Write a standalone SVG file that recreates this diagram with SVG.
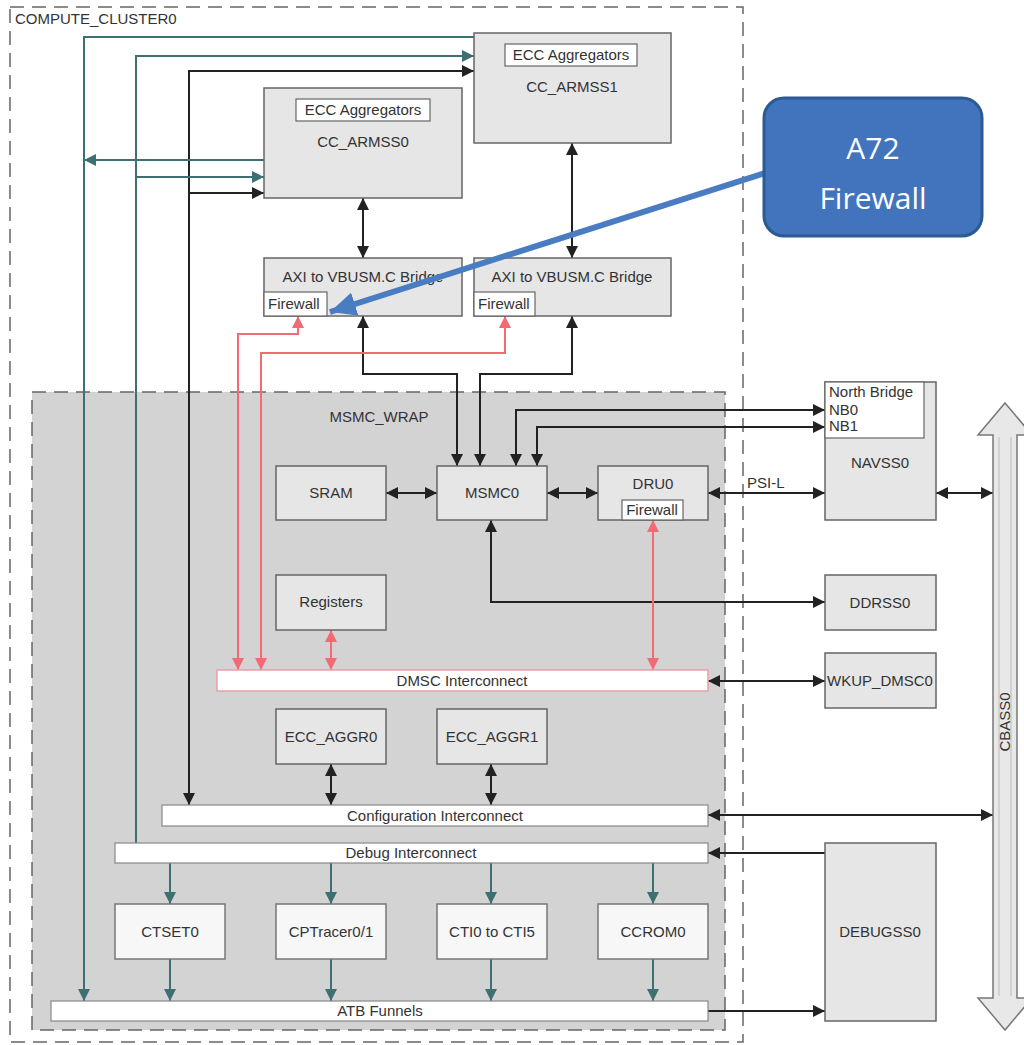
<svg xmlns="http://www.w3.org/2000/svg" width="1024" height="1045" viewBox="0 0 1024 1045">
<style>
text{font-family:"Liberation Sans",Arial,sans-serif;font-size:15px;fill:#333}
.c{text-anchor:middle}
.box{fill:#e6e6e6;stroke:#666;stroke-width:1.5}
.wbox{fill:#f7f7f7;stroke:#777;stroke-width:1.5}
.inner{fill:#fff;stroke:#666;stroke-width:1.2}
.bar{fill:#fff;stroke:#888;stroke-width:1.2}
.rbar{fill:#fff;stroke:#e9a0a8;stroke-width:1.5}
.dash{fill:none;stroke:#666;stroke-width:1.5;stroke-dasharray:14 8}
.k{fill:none;stroke:#222;stroke-width:2}
.t{fill:none;stroke:#3e6f73;stroke-width:2}
.r{fill:none;stroke:#f26b74;stroke-width:2}
.kk{marker-start:url(#ak);marker-end:url(#ak)}
.ke{marker-end:url(#ak)}
.te{marker-end:url(#at)}
.rr{marker-start:url(#ar);marker-end:url(#ar)}
</style>
<defs>
<marker id="ak" markerUnits="userSpaceOnUse" markerWidth="12" markerHeight="12" refX="12" refY="6" orient="auto-start-reverse"><path d="M0,0 L12,6 L0,12 z" fill="#222"/></marker>
<marker id="at" markerUnits="userSpaceOnUse" markerWidth="12" markerHeight="12" refX="12" refY="6" orient="auto-start-reverse"><path d="M0,0 L12,6 L0,12 z" fill="#3e6f73"/></marker>
<marker id="ar" markerUnits="userSpaceOnUse" markerWidth="12" markerHeight="12" refX="12" refY="6" orient="auto-start-reverse"><path d="M0,0 L12,6 L0,12 z" fill="#f26b74"/></marker>
<marker id="ab" markerUnits="userSpaceOnUse" markerWidth="26" markerHeight="24" refX="26" refY="12" orient="auto"><path d="M0,0 L26,12 L0,24 z" fill="#4a7cc2"/></marker>
</defs>

<g id="compute_cluster0">
<rect class="dash" x="10" y="7" width="733" height="1035"/>
<text x="15" y="24">COMPUTE_CLUSTER0</text>
</g>
<g id="msmc_wrap">
<rect x="32" y="392" width="693" height="638" fill="#d3d3d3" stroke="#666" stroke-width="1.5" stroke-dasharray="14 8"/>
<text class="c" x="379" y="422">MSMC_WRAP</text>
</g>

<g id="connectors">
<path class="k kk" d="M363,198 V258"/>
<path class="k kk" d="M572,143 V258"/>
<path class="k kk" d="M363,316 V374 H457 V466"/>
<path class="k kk" d="M572,316 V374 H480 V466"/>
<path class="k kk" d="M825,410 H516 V466"/>
<path class="k kk" d="M825,427 H537 V466"/>
<path class="k kk" d="M386,493 H437"/>
<path class="k kk" d="M547,493 H598"/>
<path class="k kk" d="M708,493 H825"/>
<path class="k kk" d="M936,493 H993"/>
<path class="k kk" d="M491,520 V602 H825"/>
<path class="k kk" d="M708,681 H825"/>
<path class="k kk" d="M331,764 V805"/>
<path class="k kk" d="M491,764 V805"/>
<path class="k kk" d="M708,815 H993"/>
<path class="k ke" d="M825,853 H708"/>
<path class="k ke" d="M708,1011 H825"/>
<path class="k kk" d="M189,805 V71 H474"/>
<path class="k ke" d="M189,193 H264"/>
<path class="t te" d="M474,37 H84 V1001"/>
<path class="t te" d="M264,160 H84"/>
<path class="t te" d="M136,843 V56 H474"/>
<path class="t te" d="M136,177 H264"/>
<path class="t te" d="M170,863 V904"/>
<path class="t te" d="M331,863 V904"/>
<path class="t te" d="M491,863 V904"/>
<path class="t te" d="M653,863 V904"/>
<path class="t te" d="M170,959 V1001"/>
<path class="t te" d="M331,959 V1001"/>
<path class="t te" d="M491,959 V1001"/>
<path class="t te" d="M653,959 V1001"/>
<path class="r rr" d="M238,670 V334 H298 V316"/>
<path class="r rr" d="M261,670 V353 H505 V316"/>
<path class="r rr" d="M331,630 V670"/>
<path class="r rr" d="M653,520 V670"/>
</g>

<g id="cc_armss1">
<rect class="box" x="474" y="33" width="197" height="110"/>
<rect class="inner" x="505" y="44" width="132" height="22"/>
<text class="c" x="571" y="60">ECC Aggregators</text>
<text class="c" x="572" y="92">CC_ARMSS1</text>
</g>
<g id="cc_armss0">
<rect class="box" x="264" y="88" width="198" height="110"/>
<rect class="inner" x="296" y="99" width="134" height="22"/>
<text class="c" x="363" y="115">ECC Aggregators</text>
<text class="c" x="363" y="147">CC_ARMSS0</text>
</g>
<g id="axi_bridge0">
<rect class="box" x="264" y="258" width="198" height="58"/>
<text class="c" x="363" y="282">AXI to VBUSM.C Bridge</text>
<rect class="inner" x="264" y="292" width="63" height="24"/>
<text x="268" y="309">Firewall</text>
</g>
<g id="axi_bridge1">
<rect class="box" x="474" y="258" width="197" height="58"/>
<text class="c" x="572" y="282">AXI to VBUSM.C Bridge</text>
<rect class="inner" x="474" y="292" width="61" height="24"/>
<text x="478" y="309">Firewall</text>
</g>
<g id="sram"><rect class="box" x="276" y="466" width="110" height="54"/><text class="c" x="331" y="498">SRAM</text></g>
<g id="msmc0"><rect class="box" x="437" y="466" width="110" height="54"/><text class="c" x="492" y="498">MSMC0</text></g>
<g id="dru0">
<rect class="box" x="598" y="466" width="110" height="54"/>
<text class="c" x="653" y="489">DRU0</text>
<rect class="inner" x="622" y="500" width="61" height="20"/>
<text class="c" x="652" y="515">Firewall</text>
</g>
<g id="navss0">
<rect class="box" x="825" y="382" width="111" height="138"/>
<rect class="inner" x="825" y="382" width="99" height="56"/>
<text x="829" y="397">North Bridge</text>
<text x="829" y="415">NB0</text>
<text x="829" y="431">NB1</text>
<text class="c" x="880" y="468">NAVSS0</text>
<text x="747" y="488">PSI-L</text>
</g>
<g id="ddrss0"><rect class="box" x="825" y="575" width="111" height="55"/><text class="c" x="880" y="608">DDRSS0</text></g>
<g id="wkup_dmsc0"><rect class="box" x="825" y="653" width="111" height="55"/><text class="c" x="880" y="686">WKUP_DMSC0</text></g>
<g id="registers"><rect class="box" x="276" y="575" width="110" height="55"/><text class="c" x="331" y="607">Registers</text></g>
<g id="dmsc_interconnect"><rect class="rbar" x="217" y="670" width="491" height="21"/><text class="c" x="462" y="686">DMSC Interconnect</text></g>
<g id="ecc_aggr0"><rect class="box" x="276" y="709" width="110" height="55"/><text class="c" x="331" y="742">ECC_AGGR0</text></g>
<g id="ecc_aggr1"><rect class="box" x="437" y="709" width="110" height="55"/><text class="c" x="492" y="742">ECC_AGGR1</text></g>
<g id="configuration_interconnect"><rect class="bar" x="162" y="805" width="546" height="21"/><text class="c" x="435" y="821">Configuration Interconnect</text></g>
<g id="debug_interconnect"><rect class="bar" x="115" y="843" width="593" height="20"/><text class="c" x="411" y="858">Debug Interconnect</text></g>
<g id="ctset0"><rect class="wbox" x="115" y="904" width="110" height="55"/><text class="c" x="170" y="937">CTSET0</text></g>
<g id="cptracer"><rect class="wbox" x="276" y="904" width="110" height="55"/><text class="c" x="331" y="937">CPTracer0/1</text></g>
<g id="cti"><rect class="wbox" x="437" y="904" width="110" height="55"/><text class="c" x="492" y="937">CTI0 to CTI5</text></g>
<g id="ccrom0"><rect class="wbox" x="598" y="904" width="110" height="55"/><text class="c" x="653" y="937">CCROM0</text></g>
<g id="atb_funnels"><rect class="bar" x="51" y="1001" width="657" height="20"/><text class="c" x="380" y="1016">ATB Funnels</text></g>
<g id="debugss0"><rect class="box" x="825" y="843" width="111" height="178"/><text class="c" x="880" y="937">DEBUGSS0</text></g>
<g id="cbass0">
<path d="M1005,403 L1032,435 L1017,435 L1017,998 L1032,998 L1005,1030 L978,998 L993,998 L993,435 L978,435 Z" fill="#e8e8e8" stroke="#777" stroke-width="1.5"/>
<path d="M999,437 V996 M1011,437 V996" fill="none" stroke="#bbb" stroke-width="1"/>
<text class="c" transform="translate(1010,722) rotate(-90)">CBASS0</text>
</g>
<g id="callout">
<path d="M768,172 L330,312" fill="none" stroke="#4a7cc2" stroke-width="6" marker-end="url(#ab)"/>
<rect x="764" y="98" width="218" height="138" rx="20" fill="#4274bd" stroke="#2c5a94" stroke-width="3"/>
<text class="c" x="873" y="159" style="font-family:'Open Sans','Noto Sans',sans-serif;font-size:30px;fill:#fff">A72</text>
<text class="c" x="873" y="209" style="font-family:'Open Sans','Noto Sans',sans-serif;font-size:30px;fill:#fff">Firewall</text>
</g>
</svg>
